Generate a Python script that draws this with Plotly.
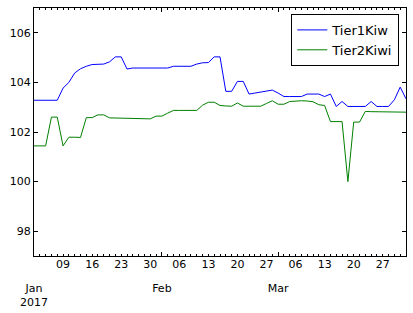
import pandas as pd
import plotly.graph_objects as go

# Business-day dates
dates = pd.bdate_range("2017-01-02", "2017-03-31")

tier1 = [103.28, 103.28, 103.28, 103.28, 103.28,
         103.77, 104.00, 104.38, 104.55, 104.65,
         104.72, 104.73, 104.74, 104.83, 105.03,
         105.03, 104.54, 104.58, 104.58, 104.58,
         104.58, 104.58, 104.58, 104.58, 104.65,
         104.65, 104.65, 104.65, 104.74, 104.79,
         104.80, 105.03, 105.03, 103.64, 103.64,
         104.04, 104.04, 103.53, 103.57, 103.60,
         103.64, 103.69, 103.57, 103.43, 103.43,
         103.43, 103.43, 103.53, 103.53, 103.53,
         103.43, 103.53, 103.03, 103.23, 103.03,
         103.03, 103.03, 103.03, 103.23, 103.03,
         103.03, 103.03, 103.30, 103.81, 103.34]

tier2 = [101.44, 101.44, 101.44, 102.60, 102.60,
         101.44, 101.79, 101.79, 101.78, 102.58,
         102.58, 102.69, 102.69, 102.57, 102.56,
         102.56, 102.56, 102.55, 102.55, 102.54,
         102.53, 102.64, 102.64, 102.76, 102.87,
         102.87, 102.87, 102.87, 102.87, 103.08,
         103.20, 103.20, 103.07, 103.05, 103.04,
         103.17, 103.04, 103.04, 103.04, 103.04,
         103.15, 103.26, 103.12, 103.12, 103.23,
         103.25, 103.26, 103.25, 103.22, 103.10,
         103.07, 102.42, 102.42, 102.42, 100.00,
         102.40, 102.40, 102.83, 102.82, 102.82,
         102.81, 102.81, 102.80, 102.80, 102.80]

week_ticks = ["2017-01-09", "2017-01-16", "2017-01-23", "2017-01-30",
              "2017-02-06", "2017-02-13", "2017-02-20", "2017-02-27",
              "2017-03-06", "2017-03-13", "2017-03-20", "2017-03-27"]
month_ticks = ["2017-01-02", "2017-02-01", "2017-03-01"]
month_labels = ["Jan<br>2017", "Feb", "Mar"]
y_ticks = [98, 100, 102, 104, 106]

FONT = "DejaVu Sans"
xrange_ = [dates[0], dates[-1]]
breaks = [dict(bounds=["sat", "mon"])]

fig = go.Figure()
fig.add_trace(go.Scatter(x=dates, y=tier1, mode="lines", name="Tier1Kiw",
                         line=dict(color="#0000ff", width=1)))
fig.add_trace(go.Scatter(x=dates, y=tier2, mode="lines", name="Tier2Kiwi",
                         line=dict(color="#008000", width=1)))
# invisible helper trace so the month axis is drawn
fig.add_trace(go.Scatter(x=dates, y=tier1, mode="lines", xaxis="x2",
                         line=dict(color="rgba(0,0,0,0)", width=0),
                         showlegend=False, hoverinfo="skip"))

fig.update_layout(
    width=413, height=313,
    margin=dict(l=34, r=7, t=8, b=57, autoexpand=False),
    paper_bgcolor="white", plot_bgcolor="white",
    font=dict(family=FONT, size=11, color="black"),
    showlegend=True,
    legend=dict(x=0.982, y=0.976, xanchor="right", yanchor="top",
                bgcolor="white", bordercolor="black", borderwidth=1,
                font=dict(family=FONT, size=13, color="black"),
                tracegroupgap=0),
    xaxis=dict(
        range=xrange_, rangebreaks=breaks, automargin=False,
        tickvals=week_ticks, tickformat="%d",
        ticks="inside", ticklen=2, tickcolor="black",
        showline=True, linecolor="black", linewidth=1, mirror="ticks",
        showgrid=False, zeroline=False,
        ticklabelstandoff=-2,
        minor=dict(ticks="inside", ticklen=2, tickcolor="black",
                   dtick=86400000, tick0="2017-01-02", showgrid=False),
        tickfont=dict(family=FONT, size=11, color="black"),
    ),
    xaxis2=dict(
        overlaying="x", anchor="y", side="bottom", automargin=False,
        range=xrange_, rangebreaks=breaks,
        tickvals=month_ticks, ticktext=month_labels,
        ticks="inside", ticklen=4, tickcolor="black",
        showline=False, mirror="ticks", showgrid=False, zeroline=False,
        ticklabelstandoff=24,
        tickfont=dict(family=FONT, size=11, color="black"),
    ),
    yaxis=dict(
        range=[97, 107], tickvals=y_ticks, automargin=False,
        ticks="inside", ticklen=4, tickcolor="black",
        showline=True, linecolor="black", linewidth=1, mirror="ticks",
        showgrid=False, zeroline=False,
        tickfont=dict(family=FONT, size=11, color="black"),
    ),
)

fig.write_html("out.html")
